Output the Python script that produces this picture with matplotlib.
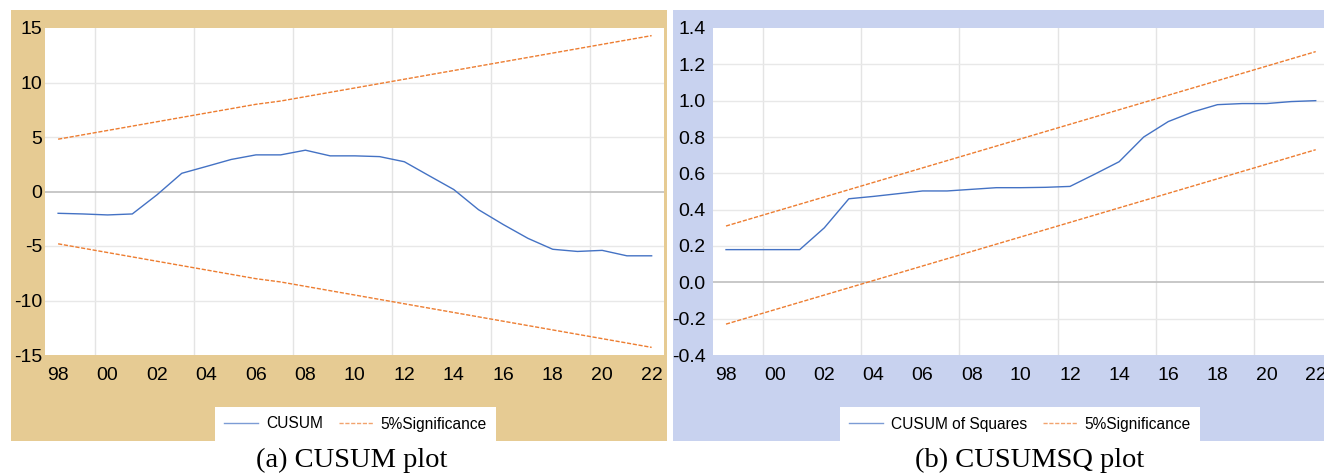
import matplotlib.pyplot as plt
from matplotlib.patches import Rectangle

# data (annual, 1998-2022)
years = list(range(1998, 2023))
tick_years = list(range(1998, 2023, 2))
tick_labels = ['98', '00', '02', '04', '06', '08', '10', '12', '14', '16', '18', '20', '22']

cusum = [-2.0, -2.06, -2.15, -2.06, -0.3, 1.67, 2.3, 2.94, 3.36, 3.36, 3.79, 3.27, 3.27,
         3.2, 2.73, 1.45, 0.18, -1.67, -3.03, -4.3, -5.3, -5.5, -5.4, -5.9, -5.9]
cusum_upper = [4.8, 5.2, 5.6, 6.0, 6.4, 6.8, 7.2, 7.6, 8.0, 8.3, 8.7, 9.1, 9.5,
               9.9, 10.3, 10.7, 11.1, 11.5, 11.9, 12.3, 12.7, 13.1, 13.5, 13.9, 14.3]
cusum_lower = [-4.8, -5.2, -5.6, -6.0, -6.4, -6.8, -7.2, -7.6, -8.0, -8.3, -8.7, -9.1, -9.5,
               -9.9, -10.3, -10.7, -11.1, -11.5, -11.9, -12.3, -12.7, -13.1, -13.5, -13.9, -14.3]

cusumsq = [0.18, 0.18, 0.18, 0.18, 0.30, 0.46, 0.473, 0.488, 0.503, 0.503, 0.512, 0.521, 0.521,
           0.523, 0.528, 0.595, 0.664, 0.80, 0.885, 0.938, 0.978, 0.984, 0.984, 0.995, 1.0]
sq_upper = [0.31, 0.35, 0.39, 0.43, 0.47, 0.51, 0.55, 0.59, 0.63, 0.67, 0.71, 0.75, 0.79,
            0.83, 0.87, 0.91, 0.95, 0.99, 1.03, 1.07, 1.11, 1.15, 1.19, 1.23, 1.27]
sq_lower = [-0.23, -0.19, -0.15, -0.11, -0.07, -0.03, 0.01, 0.05, 0.09, 0.13, 0.17, 0.21, 0.25,
            0.29, 0.33, 0.37, 0.41, 0.45, 0.49, 0.53, 0.57, 0.61, 0.65, 0.69, 0.73]

BLUE = '#4472C4'
ORANGE = '#ED7D31'
W, H = 1324, 475

plt.rcParams['font.family'] = ['Liberation Sans', 'DejaVu Sans']

fig = plt.figure(figsize=(W / 100, H / 100), dpi=100)
fig.patch.set_facecolor('white')

# panel backgrounds (parchment / blue marble in the original)
fig.add_artist(Rectangle((11 / W, 1 - 441 / H), (667 - 11) / W, (441 - 10) / H,
                         transform=fig.transFigure, facecolor='#E6CB93', edgecolor='none', zorder=0))
fig.add_artist(Rectangle((673 / W, 1 - 441 / H), (W - 673) / W, (441 - 10) / H,
                         transform=fig.transFigure, facecolor='#C8D2EF', edgecolor='none', zorder=0))


def style_axes(ax, yticks, ylabels, ypad):
    ax.set_facecolor('white')
    for s in ax.spines.values():
        s.set_visible(False)
    ax.set_xlim(1997.47, 2022.5)
    ax.set_xticks(tick_years)
    ax.set_xticklabels(tick_labels)
    ax.set_yticks(yticks)
    ax.set_yticklabels(ylabels)
    ax.tick_params(axis='both', length=0, labelsize=14)
    ax.tick_params(axis='x', pad=9)
    ax.tick_params(axis='y', pad=ypad)
    for gx in [1999.5, 2003.5, 2007.5, 2011.5, 2015.5, 2019.5]:
        ax.axvline(gx, color='#E4E4E4', lw=1, zorder=1)
    for gy in yticks[1:-1]:
        ax.axhline(gy, color='#BFBFBF' if gy == 0 else '#E8E8E8', lw=1.2 if gy == 0 else 1, zorder=1)


# (a) CUSUM
ax1 = fig.add_axes([45 / W, 1 - 355 / H, (664 - 45) / W, (355 - 28) / H])
style_axes(ax1, [-15, -10, -5, 0, 5, 10, 15], ['-15', '-10', '-5', '0', '5', '10', '15'], 2)
ax1.set_ylim(-15, 15)
l1, = ax1.plot(years, cusum, color=BLUE, lw=1, zorder=3, label='CUSUM')
l2, = ax1.plot(years, cusum_upper, color=ORANGE, lw=1, ls=(0, (3, 1.2)), zorder=3, label='5%Significance')
ax1.plot(years, cusum_lower, color=ORANGE, lw=1, ls=(0, (3, 1.2)), zorder=3)

# (b) CUSUMSQ
ax2 = fig.add_axes([712.5 / W, 1 - 355 / H, (1328 - 712.5) / W, (355 - 28) / H])
style_axes(ax2, [-0.4, -0.2, 0.0, 0.2, 0.4, 0.6, 0.8, 1.0, 1.2, 1.4],
           ['-0.4', '-0.2', '0.0', '0.2', '0.4', '0.6', '0.8', '1.0', '1.2', '1.4'], 5)
ax2.set_xlim(1997.45, 2022.5)
ax2.set_ylim(-0.4, 1.4)
m1, = ax2.plot(years, cusumsq, color=BLUE, lw=1, zorder=3, label='CUSUM of Squares')
m2, = ax2.plot(years, sq_upper, color=ORANGE, lw=1, ls=(0, (3, 1.2)), zorder=3, label='5%Significance')
ax2.plot(years, sq_lower, color=ORANGE, lw=1, ls=(0, (3, 1.2)), zorder=3)

leg_font = {'family': ['Liberation Sans Narrow', 'Liberation Sans'], 'size': 11.2}
for handles, cx in [([l1, l2], 355.5), ([m1, m2], 1020)]:
    leg = fig.legend(handles=handles, loc='center', bbox_to_anchor=(cx / W, 1 - 424 / H),
                     ncol=2, prop=leg_font, frameon=True, fancybox=False, framealpha=1,
                     edgecolor='none', facecolor='white', handlelength=2.2,
                     columnspacing=1.0, handletextpad=0.5, borderpad=0.6)
    for line in leg.get_lines():
        line.set_alpha(0.7)

fig.text(352 / W, 1 - 460 / H, '(a) CUSUM plot', ha='center', va='center',
         family='Liberation Serif', fontsize=20.5)
fig.text(1030 / W, 1 - 460 / H, '(b) CUSUMSQ plot', ha='center', va='center',
         family='Liberation Serif', fontsize=20.5)

fig.savefig('out.png', dpi=100)
